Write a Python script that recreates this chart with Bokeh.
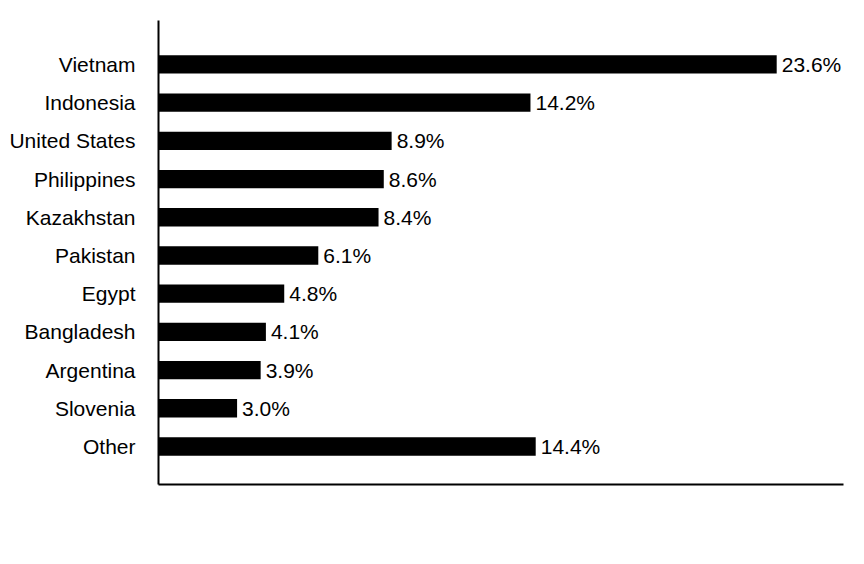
from bokeh.plotting import figure
from bokeh.models import Range1d, ColumnDataSource, FixedTicker
from bokeh.core.properties import value
from bokeh.embed import file_html
from bokeh.resources import INLINE

countries = ["Vietnam", "Indonesia", "United States", "Philippines", "Kazakhstan",
             "Pakistan", "Egypt", "Bangladesh", "Argentina", "Slovenia", "Other"]
shares = [23.6, 14.2, 8.9, 8.6, 8.4, 6.1, 4.8, 4.1, 3.9, 3.0, 14.4]

n = len(countries)
ypos = [n - 1 - i for i in range(n)]
labels = [f"{v:.1f}%" for v in shares]

src = ColumnDataSource(dict(y=ypos, v=shares, lab=labels))

p = figure(width=856, height=548, output_backend="svg", toolbar_location=None,
           x_range=Range1d(0, 26.15), y_range=Range1d(-0.995, 11.15),
           min_border_left=158, min_border_right=13, min_border_top=20, min_border_bottom=64)
p.outline_line_color = None
p.xgrid.visible = False
p.ygrid.visible = False

p.hbar(y="y", right="v", left=0, height=0.48, source=src, color="black", line_color=None)
p.text(x="v", y="y", text="lab", source=src, x_offset=5, text_baseline="middle",
       text_align="left", text_font=value("Liberation Sans"), text_font_size="21px",
       text_color="black")

p.yaxis.ticker = FixedTicker(ticks=ypos)
p.yaxis.major_label_overrides = {y: c for y, c in zip(ypos, countries)}
p.yaxis.major_tick_line_color = None
p.yaxis.minor_tick_line_color = None
p.yaxis.major_label_standoff = 17
p.yaxis.major_label_text_font = "Liberation Sans"
p.yaxis.major_label_text_font_size = "21px"
p.yaxis.major_label_text_color = "black"
p.yaxis.axis_line_width = 2
p.yaxis.axis_line_color = "black"

p.xaxis.major_tick_line_color = None
p.xaxis.minor_tick_line_color = None
p.xaxis.major_label_text_font_size = "0px"
p.xaxis.major_label_text_color = None
p.xaxis.axis_line_width = 2
p.xaxis.axis_line_color = "black"

open("out.html", "w").write(file_html(p, INLINE))
